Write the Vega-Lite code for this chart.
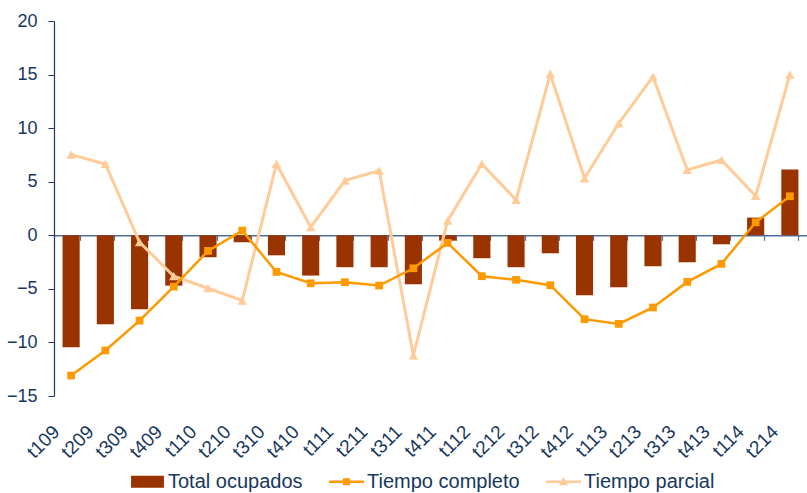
{
  "$schema": "https://vega.github.io/schema/vega-lite/v6.json",
  "width": 753,
  "height": 375,
  "autosize": "none",
  "padding": {"left": 54, "top": 21, "right": 0, "bottom": 97},
  "config": {
    "view": {"stroke": null},
    "font": "Liberation Sans",
    "axis": {"grid": false, "title": null, "labelColor": "#17375E", "labelFont": "Liberation Sans"},
    "legend": {"labelFont": "Liberation Sans"}
  },
  "datasets": {
    "rows": [
      {"q": "t109", "s": "Total ocupados", "v": -10.45},
      {"q": "t209", "s": "Total ocupados", "v": -8.3},
      {"q": "t309", "s": "Total ocupados", "v": -6.9},
      {"q": "t409", "s": "Total ocupados", "v": -4.7},
      {"q": "t110", "s": "Total ocupados", "v": -2.05},
      {"q": "t210", "s": "Total ocupados", "v": -0.65},
      {"q": "t310", "s": "Total ocupados", "v": -1.87},
      {"q": "t410", "s": "Total ocupados", "v": -3.76},
      {"q": "t111", "s": "Total ocupados", "v": -2.98},
      {"q": "t211", "s": "Total ocupados", "v": -2.98},
      {"q": "t311", "s": "Total ocupados", "v": -4.57},
      {"q": "t411", "s": "Total ocupados", "v": -0.5},
      {"q": "t112", "s": "Total ocupados", "v": -2.14},
      {"q": "t212", "s": "Total ocupados", "v": -2.98},
      {"q": "t312", "s": "Total ocupados", "v": -1.68},
      {"q": "t412", "s": "Total ocupados", "v": -5.6},
      {"q": "t113", "s": "Total ocupados", "v": -4.85},
      {"q": "t213", "s": "Total ocupados", "v": -2.89},
      {"q": "t313", "s": "Total ocupados", "v": -2.52},
      {"q": "t413", "s": "Total ocupados", "v": -0.84},
      {"q": "t114", "s": "Total ocupados", "v": 1.65},
      {"q": "t214", "s": "Total ocupados", "v": 6.13},
      {"q": "t109", "s": "Tiempo completo", "v": -13.09},
      {"q": "t209", "s": "Tiempo completo", "v": -10.75},
      {"q": "t309", "s": "Tiempo completo", "v": -7.96},
      {"q": "t409", "s": "Tiempo completo", "v": -4.79},
      {"q": "t110", "s": "Tiempo completo", "v": -1.46},
      {"q": "t210", "s": "Tiempo completo", "v": 0.44},
      {"q": "t310", "s": "Tiempo completo", "v": -3.42},
      {"q": "t410", "s": "Tiempo completo", "v": -4.48},
      {"q": "t111", "s": "Tiempo completo", "v": -4.38},
      {"q": "t211", "s": "Tiempo completo", "v": -4.69},
      {"q": "t311", "s": "Tiempo completo", "v": -3.08},
      {"q": "t411", "s": "Tiempo completo", "v": -0.71},
      {"q": "t112", "s": "Tiempo completo", "v": -3.82},
      {"q": "t212", "s": "Tiempo completo", "v": -4.16},
      {"q": "t312", "s": "Tiempo completo", "v": -4.66},
      {"q": "t412", "s": "Tiempo completo", "v": -7.83},
      {"q": "t113", "s": "Tiempo completo", "v": -8.27},
      {"q": "t213", "s": "Tiempo completo", "v": -6.74},
      {"q": "t313", "s": "Tiempo completo", "v": -4.35},
      {"q": "t413", "s": "Tiempo completo", "v": -2.67},
      {"q": "t114", "s": "Tiempo completo", "v": 1.21},
      {"q": "t214", "s": "Tiempo completo", "v": 3.64},
      {"q": "t109", "s": "Tiempo parcial", "v": 7.53},
      {"q": "t209", "s": "Tiempo parcial", "v": 6.66},
      {"q": "t309", "s": "Tiempo parcial", "v": -0.65},
      {"q": "t409", "s": "Tiempo parcial", "v": -3.82},
      {"q": "t110", "s": "Tiempo parcial", "v": -4.94},
      {"q": "t210", "s": "Tiempo parcial", "v": -6.09},
      {"q": "t310", "s": "Tiempo parcial", "v": 6.66},
      {"q": "t410", "s": "Tiempo parcial", "v": 0.75},
      {"q": "t111", "s": "Tiempo parcial", "v": 5.1},
      {"q": "t211", "s": "Tiempo parcial", "v": 6.04},
      {"q": "t311", "s": "Tiempo parcial", "v": -11.22},
      {"q": "t411", "s": "Tiempo parcial", "v": 1.37},
      {"q": "t112", "s": "Tiempo parcial", "v": 6.66},
      {"q": "t212", "s": "Tiempo parcial", "v": 3.3},
      {"q": "t312", "s": "Tiempo parcial", "v": 15.06},
      {"q": "t412", "s": "Tiempo parcial", "v": 5.32},
      {"q": "t113", "s": "Tiempo parcial", "v": 10.45},
      {"q": "t213", "s": "Tiempo parcial", "v": 14.8},
      {"q": "t313", "s": "Tiempo parcial", "v": 6.1},
      {"q": "t413", "s": "Tiempo parcial", "v": 7.03},
      {"q": "t114", "s": "Tiempo parcial", "v": 3.67},
      {"q": "t214", "s": "Tiempo parcial", "v": 14.99}
    ]
  },
  "data": {"name": "rows"},
  "resolve": {"axis": {"x": "independent"}},
  "layer": [
    {
      "transform": [{"filter": "datum.s === 'Total ocupados'"}],
      "mark": {"type": "bar", "color": "#993300"},
      "encoding": {
        "x": {"field": "q", "type": "ordinal", "sort": null,
              "scale": {"paddingInner": 0.5, "paddingOuter": 0.25},
              "axis": {"orient": "bottom", "domain": false, "ticks": false, "labelAngle": -45, "labelFontSize": 19, "labelPadding": 26, "labelOffset": -21}},
        "y": {"field": "v", "type": "quantitative",
              "scale": {"domain": [-15, 20], "nice": false, "zero": false},
              "axis": {"values": [-15, -10, -5, 0, 5, 10, 15, 20], "domainColor": "#1F3864", "tickColor": "#1F3864", "tickSize": 6, "labelPadding": 11, "labelFontSize": 18, "domainWidth": 1.2}}
      }
    },
    {
      "transform": [{"filter": "datum.s === 'Total ocupados'"}],
      "mark": {"type": "rule", "opacity": 0},
      "encoding": {
        "x": {"field": "q", "type": "ordinal", "sort": null,
              "axis": {"orient": "bottom", "offset": -160.7, "labels": false, "tickBand": "extent", "domainColor": "#4F6F98", "tickColor": "#4F6F98", "tickSize": 5, "domainWidth": 1.5, "tickWidth": 1.2}}
      }
    },
    {
      "transform": [{"filter": "datum.s === 'Tiempo parcial'"}],
      "mark": {"type": "line", "color": "#FFCC99", "strokeWidth": 3},
      "encoding": {
        "x": {"field": "q", "type": "ordinal", "sort": null, "axis": null},
        "y": {"field": "v", "type": "quantitative"}
      }
    },
    {
      "transform": [{"filter": "datum.s === 'Tiempo parcial'"}],
      "mark": {"type": "point", "shape": "triangle-up", "filled": true, "opacity": 1, "color": "#FFCC99", "size": 90},
      "encoding": {
        "x": {"field": "q", "type": "ordinal", "sort": null, "axis": null},
        "y": {"field": "v", "type": "quantitative"}
      }
    },
    {
      "transform": [{"filter": "datum.s === 'Tiempo completo'"}],
      "mark": {"type": "line", "color": "#FF9900", "strokeWidth": 2.5},
      "encoding": {
        "x": {"field": "q", "type": "ordinal", "sort": null, "axis": null},
        "y": {"field": "v", "type": "quantitative"}
      }
    },
    {
      "transform": [{"filter": "datum.s === 'Tiempo completo'"}],
      "mark": {"type": "point", "shape": "square", "filled": true, "opacity": 1, "color": "#FF9900", "size": 60},
      "encoding": {
        "x": {"field": "q", "type": "ordinal", "sort": null, "axis": null},
        "y": {"field": "v", "type": "quantitative"}
      }
    },
    {
      "transform": [{"filter": "datum.v > 999"}],
      "mark": {"type": "point", "filled": true, "opacity": 1},
      "encoding": {
        "x": {"field": "q", "type": "ordinal", "sort": null, "axis": null},
        "y": {"field": "v", "type": "quantitative"},
        "shape": {"field": "s", "type": "nominal",
                  "scale": {"domain": ["Total ocupados", "Tiempo completo", "Tiempo parcial"],
                            "range": ["M-0.94,-0.34H0.94V0.34H-0.94Z", "M-1,-0.07H1V0.07H-1Z M-0.2,-0.2H0.2V0.2H-0.2Z", "M-1,-0.07H1V0.07H-1Z M0,-0.27L0.26,0.2H-0.26Z"]},
                  "legend": {"orient": "none", "direction": "horizontal", "legendX": 76, "legendY": 443, "title": null,
                            "symbolSize": 1225, "symbolStrokeWidth": 0, "labelFontSize": 20, "labelColor": "#17375E",
                            "labelOffset": 3, "columnPadding": 26, "symbolOpacity": 1}},
        "fill": {"field": "s", "type": "nominal",
                 "scale": {"domain": ["Total ocupados", "Tiempo completo", "Tiempo parcial"],
                           "range": ["#993300", "#FF9900", "#FFCC99"]},
                 "legend": {"orient": "none", "direction": "horizontal", "legendX": 76, "legendY": 443, "title": null,
                            "symbolSize": 1225, "symbolStrokeWidth": 0, "labelFontSize": 20, "labelColor": "#17375E",
                            "labelOffset": 3, "columnPadding": 26, "symbolOpacity": 1}}
      }
    }
  ]
}
